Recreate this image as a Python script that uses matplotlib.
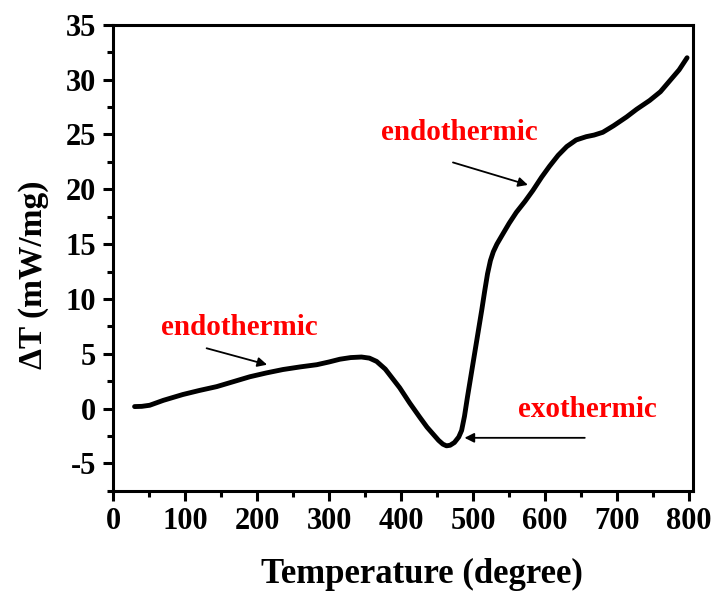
import numpy as np
import matplotlib.pyplot as plt
from matplotlib.ticker import MultipleLocator

# DSC curve
temp = [30, 40, 51, 70, 97, 120, 144, 167, 190, 213, 236, 260, 283, 300, 315, 330, 345,
        356, 366, 378, 388, 398, 412, 426, 436, 444, 452, 458, 463, 468, 474, 480, 484,
        488, 492, 497, 502, 507, 512, 516, 520, 524, 528, 533, 541, 550, 560, 572, 583,
        595, 606, 618, 630, 643, 657, 668, 680, 695, 713, 727, 745, 760, 773, 786, 797]
dT = [0.18, 0.2, 0.3, 0.75, 1.28, 1.65, 2.0, 2.45, 2.9, 3.25, 3.56, 3.8, 4.0, 4.25, 4.5, 4.65, 4.7,
      4.6, 4.3, 3.6, 2.75, 1.9, 0.5, -0.8, -1.7, -2.3, -2.9, -3.25, -3.4, -3.35, -3.1, -2.6, -2.0,
      -0.7, 1.0, 3.0, 5.0, 7.0, 9.0, 10.7, 12.3, 13.5, 14.3, 15.0, 15.9, 16.9, 17.9, 18.9, 19.9,
      21.1, 22.1, 23.1, 23.9, 24.5, 24.8, 24.95, 25.2, 25.8, 26.6, 27.3, 28.1, 28.9, 29.9, 30.9, 32.0]

notes = ['endothermic', 'endothermic', 'exothermic']
note_xy = [(176, 7.4), (481, 25.2), (659, -0.1)]
arrow_from = [(130, 5.5), (472, 22.45), (655, -2.67)]
arrow_to = [(214, 4.0), (576, 20.4), (488, -2.67)]

plt.rcParams['font.family'] = 'Liberation Serif'
plt.rcParams['font.weight'] = 'bold'
plt.rcParams['axes.unicode_minus'] = False

fig = plt.figure(figsize=(7.15, 5.92), dpi=100)
ax = fig.add_axes([0.158, 0.171, 0.811, 0.787])

ax.plot(temp, dT, color='black', lw=3.5, solid_capstyle='round', solid_joinstyle='round')

for txt, xy, a, b in zip(notes, note_xy, arrow_from, arrow_to):
    ax.text(xy[0], xy[1], txt, color='red', fontsize=21, fontweight='bold',
            ha='center', va='center')
    ax.annotate('', xy=b, xytext=a,
                arrowprops=dict(arrowstyle='-|>', color='black', lw=1.3,
                                mutation_scale=14, shrinkA=0, shrinkB=0))

ax.set_xlim(0, 805)
ax.set_ylim(-7.5, 35)
ax.xaxis.set_major_locator(MultipleLocator(100))
ax.xaxis.set_minor_locator(MultipleLocator(50))
ax.yaxis.set_major_locator(MultipleLocator(5))
ax.yaxis.set_minor_locator(MultipleLocator(2.5))
ax.tick_params(which='major', direction='out', length=7, width=2.2, labelsize=22, pad=5)
ax.tick_params(which='minor', direction='out', length=4, width=2.2)
for lab in ax.get_xticklabels() + ax.get_yticklabels():
    lab.set_fontweight('bold')
for sp in ax.spines.values():
    sp.set_linewidth(2.2)

ax.set_xlabel('Temperature (degree)', fontsize=25, fontweight='bold')
ax.set_ylabel('ΔT (mW/mg)', fontsize=24, fontweight='bold')
ax.xaxis.set_label_coords(0.532, -0.145)
ax.yaxis.set_label_coords(-0.11, 0.463)

fig.savefig('out.png', dpi=100)
